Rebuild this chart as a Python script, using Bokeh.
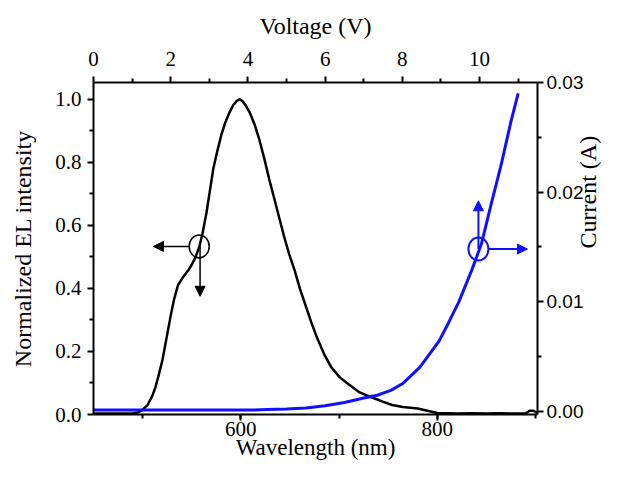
import math
from bokeh.plotting import figure
from bokeh.models import (Range1d, LinearAxis, FixedTicker, PrintfTickFormatter,
                          Arrow, NormalHead)
from bokeh.embed import file_html
from bokeh.resources import INLINE

# EL spectrum (bottom / left axes)
wavelength = [450, 470, 490, 495, 500, 505, 510, 513, 516, 520, 523, 526, 529, 532,
              536, 541, 546, 550, 554, 558, 561, 565, 569, 572, 576, 580, 584, 588,
              592, 596, 599, 602, 605, 609, 614, 619, 624, 629, 634, 639, 644, 649,
              655, 660, 666, 672, 678, 685, 692, 701, 710, 721, 730, 737, 745, 754,
              765, 780, 790, 800, 810, 820, 835, 850, 865, 880, 890, 894, 898, 902]
intensity = [0.003, 0.003, 0.004, 0.006, 0.015, 0.03, 0.06, 0.086, 0.12, 0.17, 0.22,
             0.27, 0.32, 0.365, 0.41, 0.435, 0.455, 0.475, 0.50, 0.535, 0.574, 0.64,
             0.72, 0.78, 0.835, 0.885, 0.925, 0.955, 0.98, 0.995, 1.0, 0.993, 0.98,
             0.958, 0.92, 0.87, 0.81, 0.745, 0.685, 0.625, 0.565, 0.51, 0.455, 0.40,
             0.345, 0.29, 0.24, 0.19, 0.15, 0.117, 0.095, 0.07, 0.058, 0.05, 0.04,
             0.03, 0.024, 0.019, 0.012, 0.005, 0.004, 0.003, 0.004, 0.003, 0.004,
             0.003, 0.004, 0.012, 0.012, 0.004]

# I-V curve (top / right axes)
voltage = [0, 1, 2, 3, 4, 4.5, 5, 5.5, 6, 6.5, 7, 7.35, 7.7, 8, 8.45, 8.95, 9.2,
           9.46, 9.8, 10.05, 10.3, 10.56, 10.81, 11.0]
current = [0.0001, 0.0001, 0.0001, 0.0001, 0.0001, 0.00015, 0.0002, 0.0003, 0.0005,
           0.0008, 0.0012, 0.00146, 0.0019, 0.0025, 0.004, 0.0064, 0.0081, 0.00996,
           0.0129, 0.0153, 0.0189, 0.0225, 0.0264, 0.029]

wl_ticks = [600, 800]
wl_minor = [500, 600, 700, 800, 900]
v_ticks = [0, 2, 4, 6, 8, 10]
v_minor = [1, 3, 5, 7, 9, 11]
int_ticks = [0.0, 0.2, 0.4, 0.6, 0.8, 1.0]
int_minor = [0.1, 0.3, 0.5, 0.7, 0.9]
cur_ticks = [0.0, 0.01, 0.02, 0.03]
cur_minor = [0.005, 0.015, 0.025]

SERIF = "Liberation Serif"
SANS = "Liberation Sans"
BLUE = "#1010ff"

p = figure(width=617, height=464, x_range=Range1d(450, 902), y_range=Range1d(0, 1.053),
           output_backend="svg", toolbar_location=None,
           min_border_left=93, min_border_right=73, min_border_top=82, min_border_bottom=50)
p.extra_x_ranges = {"volt": Range1d(0, 11.5)}
p.extra_y_ranges = {"cur": Range1d(-0.0003, 0.0300)}
p.xgrid.visible = False
p.ygrid.visible = False
p.outline_line_color = None

bottom = p.below[0]
left = p.left[0]
top = LinearAxis(x_range_name="volt", axis_label="Voltage (V)")
right = LinearAxis(y_range_name="cur", axis_label="Current (A)")
p.add_layout(top, "above")
p.add_layout(right, "right")

bottom.axis_label = "Wavelength (nm)"
left.axis_label = "Normalized EL intensity"

bottom.ticker = FixedTicker(ticks=wl_ticks, minor_ticks=wl_minor)
top.ticker = FixedTicker(ticks=v_ticks, minor_ticks=v_minor)
left.ticker = FixedTicker(ticks=int_ticks, minor_ticks=int_minor)
right.ticker = FixedTicker(ticks=cur_ticks, minor_ticks=cur_minor)
left.formatter = PrintfTickFormatter(format="%.1f")
right.formatter = PrintfTickFormatter(format="%.2f")

for ax in (bottom, top, left, right):
    ax.axis_line_width = 2
    ax.axis_line_color = "black"
    ax.major_tick_line_width = 2
    ax.minor_tick_line_width = 2
    ax.major_tick_out = 6
    ax.major_tick_in = 0
    ax.minor_tick_out = 4
    ax.minor_tick_in = 0
    ax.major_label_text_font = SERIF
    ax.major_label_text_font_size = "21px"
    ax.major_label_text_color = "black"
    ax.axis_label_text_font = SERIF
    ax.axis_label_text_font_size = "24px"
    ax.axis_label_text_font_style = "normal"
    ax.axis_label_text_color = "black"

right.major_label_text_font = SANS
right.major_label_text_font_size = "19px"
bottom.axis_label_text_font_size = "23px"

left.major_label_standoff = 6
left.axis_label_standoff = 16
right.major_label_standoff = 3
right.axis_label_standoff = 2
right.axis_label_orientation = math.pi / 2
top.major_label_standoff = 11
top.axis_label_standoff = 10
bottom.major_label_standoff = 1
bottom.axis_label_standoff = -4

p.line(wavelength, intensity, line_color="black", line_width=2.5)
p.line(voltage, current, line_color=BLUE, line_width=3,
       x_range_name="volt", y_range_name="cur")

# annotation markers (circle + arrows)
p.ellipse(x=[557.6], y=[0.533], width=20, height=23, width_units="screen",
          height_units="screen", fill_color=None, line_color="black", line_width=1.5)
p.add_layout(Arrow(end=NormalHead(size=10, fill_color="black", line_color="black", line_width=1),
                   x_start=548, y_start=0.533, x_end=511, y_end=0.533,
                   line_color="black", line_width=1.5))
p.add_layout(Arrow(end=NormalHead(size=10, fill_color="black", line_color="black", line_width=1),
                   x_start=558.5, y_start=0.533, x_end=558.5, y_end=0.375,
                   line_color="black", line_width=1.5))

p.ellipse(x=[9.97], y=[0.0148], width=20, height=23, width_units="screen",
          height_units="screen", fill_color=None, line_color=BLUE, line_width=2,
          x_range_name="volt", y_range_name="cur")
p.add_layout(Arrow(end=NormalHead(size=10, fill_color=BLUE, line_color=BLUE, line_width=1),
                   x_start=10.24, y_start=0.0148, x_end=11.24, y_end=0.0148,
                   line_color=BLUE, line_width=2,
                   x_range_name="volt", y_range_name="cur"))
p.add_layout(Arrow(end=NormalHead(size=10, fill_color=BLUE, line_color=BLUE, line_width=1),
                   x_start=9.97, y_start=0.0148, x_end=9.97, y_end=0.0192,
                   line_color=BLUE, line_width=2,
                   x_range_name="volt", y_range_name="cur"))

open("out.html", "w").write(file_html(p, INLINE))
